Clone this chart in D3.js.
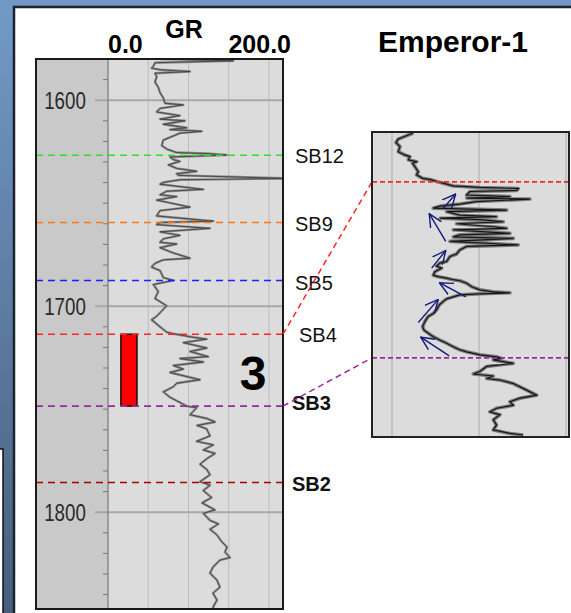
<!DOCTYPE html>
<html>
<head>
<meta charset="utf-8">
<script src="https://cdn.jsdelivr.net/npm/d3@7"></script>
<style>
  body { margin: 0; background: #fff; }
  svg { display: block; font-family: Arial, "Liberation Sans", sans-serif; }
</style>
</head>
<body>
<div id="chart"></div>
<script>
/* GR well log with sequence boundaries, Emperor-1 */

// Sequence boundaries (depth, m)
const horizons = ["SB12", "SB9", "SB5", "SB4", "SB3", "SB2"];
const horizonDepths = [1626.7, 1659.4, 1687.5, 1713.6, 1748.5, 1785.6];

// Depth track ticks
const depthLabels = [1600, 1700, 1800];
const minorStep = 10;

// GR track scale
const grGrid = [50, 100, 150, 200];
const grHeader = ["0.0", "200.0"];

// Main GR curve
const grDepth = [1580.0, 1580.9, 1581.8, 1583.5, 1584.4, 1585.2, 1586.1, 1586.9, 1588.6, 1591.2,
  1593.8, 1596.3, 1598.9, 1601.5, 1602.3, 1604.0, 1605.7, 1607.5, 1609.2, 1610.0,
  1611.7, 1613.4, 1614.3, 1615.1, 1616.0, 1619.4, 1622.0, 1623.7, 1625.4, 1625.9,
  1626.6, 1627.6, 1628.8, 1629.7, 1631.4, 1633.1, 1634.5, 1635.7, 1636.5, 1638.0,
  1638.6, 1639.9, 1640.8, 1643.3, 1644.2, 1645.9, 1646.8, 1648.5, 1651.9, 1653.6,
  1656.2, 1658.7, 1659.4, 1660.4, 1662.2, 1663.9, 1665.6, 1667.3, 1669.0, 1669.8,
  1671.6, 1674.0, 1676.7, 1677.5, 1679.2, 1681.0, 1682.7, 1686.1, 1687.5, 1689.5,
  1692.9, 1696.3, 1699.8, 1703.2, 1704.9, 1706.6, 1710.0, 1712.6, 1713.4, 1715.1,
  1716.0, 1717.7, 1720.3, 1722.0, 1724.5, 1725.4, 1727.1, 1728.8, 1730.5, 1732.2,
  1735.7, 1737.4, 1739.1, 1741.6, 1744.2, 1745.9, 1748.5, 1749.3, 1751.0, 1752.7,
  1754.5, 1756.2, 1757.9, 1759.6, 1763.0, 1765.6, 1767.3, 1769.8, 1771.5, 1774.1,
  1776.7, 1779.2, 1781.8, 1785.2, 1786.9, 1789.5, 1792.9, 1795.5, 1798.9, 1800.6,
  1804.0, 1805.7, 1808.3, 1810.9, 1814.3, 1816.9, 1819.4, 1822.0, 1823.3, 1826.7,
  1829.6, 1833.0, 1836.4, 1839.3, 1842.7, 1846.1, 1847.5];
const grValues = [64.6, 155.7, 58.4, 56.3, 54.2, 64.6, 101.9, 58.4, 60.5, 58.4,
  62.5, 64.6, 68.7, 70.8, 93.6, 64.6, 60.5, 89.4, 64.6, 95.6,
  68.7, 97.7, 77.0, 116.4, 89.4, 68.7, 66.7, 72.9, 85.3, 122.6,
  147.4, 77.0, 81.2, 89.4, 75.0, 85.3, 110.1, 85.3, 87.4, 225.0,
  90.0, 68.7, 64.6, 118.4, 72.9, 64.6, 85.3, 60.5, 101.9, 64.6,
  60.5, 130.8, 64.6, 60.5, 126.7, 64.6, 89.4, 68.7, 64.6, 85.3,
  64.6, 80.0, 101.9, 68.7, 58.4, 54.2, 64.6, 68.7, 81.2, 56.3,
  62.5, 58.4, 72.9, 64.6, 60.5, 54.2, 64.6, 72.9, 81.2, 106.0,
  122.6, 93.6, 122.6, 101.9, 124.6, 89.4, 118.4, 81.2, 93.6, 77.0,
  114.3, 85.3, 81.2, 68.7, 77.0, 85.3, 97.7, 110.1, 106.0, 101.9,
  122.6, 132.9, 110.6, 122.6, 126.7, 110.1, 130.8, 118.4, 133.0, 122.6,
  114.3, 122.6, 126.7, 114.3, 126.7, 118.4, 128.8, 116.8, 132.9, 118.4,
  126.7, 137.1, 126.7, 135.0, 141.2, 147.8, 145.3, 151.6, 139.1, 130.4,
  126.7, 135.4, 139.1, 130.4, 135.4, 130.4, 133.0];

// Zoomed curve, SB4 to SB3 interval
const insetDepth = [1703.9, 1704.3, 1705.1, 1705.8, 1706.6, 1707.6, 1708.2, 1708.6, 1709.2, 1709.6,
  1709.9, 1710.6, 1711.6, 1712.2, 1712.9, 1713.2, 1713.5, 1714.4, 1714.7, 1714.9,
  1715.3, 1715.5, 1716.2, 1716.5, 1716.8, 1717.0, 1717.5, 1718.0, 1718.4, 1718.8,
  1719.2, 1719.5, 1720.2, 1720.5, 1720.8, 1721.1, 1721.5, 1721.9, 1722.5, 1722.8,
  1723.1, 1723.8, 1724.1, 1724.5, 1724.8, 1725.4, 1726.1, 1726.4, 1727.1, 1727.9,
  1728.4, 1729.4, 1729.7, 1730.3, 1730.7, 1731.4, 1732.1, 1732.4, 1732.7, 1733.0,
  1733.2, 1733.7, 1734.4, 1735.0, 1735.4, 1735.6, 1735.8, 1736.0, 1736.4, 1736.8,
  1737.3, 1738.0, 1739.0, 1739.7, 1740.3, 1741.3, 1742.3, 1743.0, 1743.6, 1744.3,
  1745.0, 1745.6, 1746.3, 1746.9, 1747.3, 1747.9, 1748.3, 1748.6, 1748.9, 1749.6,
  1750.2, 1751.2, 1751.7, 1752.1, 1752.6, 1752.9, 1753.6, 1754.9, 1755.9, 1756.5,
  1757.2, 1757.9, 1758.5, 1759.2, 1759.8, 1760.8, 1761.8, 1762.8, 1763.5, 1763.8];
const insetGR = [62.2, 59.4, 53.6, 52.3, 54.6, 53.6, 56.9, 60.3, 59.4, 64.1,
  61.8, 63.2, 65.1, 64.1, 67.6, 72.8, 75.6, 85.2, 100.5, 122.6,
  121.6, 94.8, 92.9, 117.8, 92.9, 129.3, 98.6, 89.0, 77.6, 73.7,
  115.9, 81.4, 89.0, 110.1, 77.6, 100.5, 114.0, 87.1, 108.2, 115.9,
  85.2, 117.8, 89.0, 85.2, 119.7, 83.3, 122.6, 92.9, 89.0, 87.1,
  83.3, 81.4, 77.6, 75.6, 78.5, 74.7, 73.7, 76.6, 81.4, 85.2,
  89.0, 92.9, 95.8, 100.5, 108.2, 117.8, 100.5, 89.0, 85.2, 81.4,
  79.5, 77.2, 75.6, 73.7, 70.8, 68.9, 67.6, 68.4, 70.8, 73.7,
  77.6, 81.4, 85.2, 89.0, 92.9, 100.5, 110.1, 113.0, 108.2, 119.7,
  104.4, 100.5, 96.7, 108.2, 104.4, 112.0, 119.7, 127.4, 133.1, 123.5,
  117.8, 119.7, 110.1, 106.3, 112.0, 108.2, 110.1, 108.2, 117.8, 125.4];
const insetGrid = [50, 100, 150];

// Trend arrows in the zoomed panel (tail -> tip)
const arrowTailDepth = [1718.8, 1725.4, 1730.7, 1736.4, 1741.5, 1748.1];
const arrowTailGR = [79.5, 80.9, 72.8, 92.5, 65.1, 82.9];
const arrowTipDepth = [1716.0, 1719.9, 1727.2, 1733.6, 1736.9, 1744.4];
const arrowTipGR = [86.6, 71.4, 80.9, 77.2, 76.6, 66.5];

// Sequence 3 interval
const seqName = "3";
const seqTop = "SB4", seqBase = "SB3";
const seqGR = [16, 36];

// Colours and label styles per boundary
const horizonColor = { SB12: "#2ee02e", SB9: "#ff7410", SB5: "#1f1fff", SB4: "#ff2626", SB3: "#9c2a9c", SB2: "#a80000" };
const horizonBold = { SB3: true, SB2: true };

// Page layout
const width = 571, height = 613;
const track = { left: 36, split: 108, right: 283, top: 59, bottom: 609 };
const inset = { left: 372, right: 569, top: 132, bottom: 437 };

let svg = d3.select("#chart")
  .append("svg")
  .attr("width", width)
  .attr("height", height)
  .attr("viewBox", [0, 0, width, height]);

let defs = svg.append("defs");
let grad = defs.append("linearGradient").attr("id", "bg").attr("x1", 0).attr("x2", 0).attr("y1", 0).attr("y2", 1);
grad.append("stop").attr("offset", "0%").attr("stop-color", "#7299c6");
grad.append("stop").attr("offset", "100%").attr("stop-color", "#475f7d");

defs.append("clipPath").attr("id", "clipTrack")
  .append("rect").attr("x", track.split).attr("y", track.top)
  .attr("width", track.right - track.split).attr("height", track.bottom - track.top);
defs.append("clipPath").attr("id", "clipInset")
  .append("rect").attr("x", inset.left).attr("y", inset.top)
  .attr("width", inset.right - inset.left).attr("height", inset.bottom - inset.top);

defs.append("marker")
  .attr("id", "head")
  .attr("viewBox", "0 0 10 10")
  .attr("refX", 9.5).attr("refY", 5)
  .attr("markerWidth", 14).attr("markerHeight", 14)
  .attr("markerUnits", "userSpaceOnUse")
  .attr("orient", "auto")
  .append("path")
  .attr("d", "M0,0.5 L9.5,5 L0,9.5")
  .attr("fill", "none")
  .attr("stroke", "#14197a")
  .attr("stroke-width", 1);

// Slide background and panel
svg.append("rect").attr("width", width).attr("height", height).attr("fill", "url(#bg)");
svg.append("rect")
  .attr("x", 14).attr("y", 7).attr("width", width).attr("height", height)
  .attr("fill", "#fff").attr("stroke", "#1b2230").attr("stroke-width", 2.5);
svg.append("rect")
  .attr("x", -3).attr("y", 449).attr("width", 6).attr("height", 200)
  .attr("fill", "#fff").attr("stroke", "#111").attr("stroke-width", 1.5);

// Scales
let y = d3.scaleLinear()
  .domain([1580, 1847])
  .range([track.top, track.bottom]);

let x = d3.scaleLinear()
  .domain([0, 200])
  .range([track.split, 269]);

let yIn = d3.scaleLinear()
  .domain([1703.7, 1764.2])
  .range([inset.top, inset.bottom]);

let xIn = d3.scaleLinear()
  .domain([50, 150])
  .range([392, 566]);

const depthOf = name => horizonDepths[horizons.indexOf(name)];

// Track backgrounds
svg.append("rect")
  .attr("x", track.left).attr("y", track.top)
  .attr("width", track.split - track.left).attr("height", track.bottom - track.top)
  .attr("fill", "#c9c9c9");
svg.append("rect")
  .attr("x", track.split).attr("y", track.top)
  .attr("width", track.right - track.split).attr("height", track.bottom - track.top)
  .attr("fill", "#dcdcdc");

// GR grid
svg.append("g")
  .selectAll("line")
  .data(grGrid)
  .join("line")
  .attr("x1", d => x(d)).attr("x2", d => x(d))
  .attr("y1", track.top).attr("y2", track.bottom)
  .attr("stroke", "#bcbcbc").attr("stroke-width", 1);

// Depth axis: minor ticks, major lines, labels
let minor = d3.range(1580, 1848, minorStep).filter(d => d % 100 !== 0);
svg.append("g")
  .selectAll("line")
  .data(minor)
  .join("line")
  .attr("x1", track.split - 5).attr("x2", track.split)
  .attr("y1", d => y(d)).attr("y2", d => y(d))
  .attr("stroke", "#777").attr("stroke-width", 1);

svg.append("g")
  .selectAll("line")
  .data(depthLabels)
  .join("line")
  .attr("x1", track.split - 13).attr("x2", track.right)
  .attr("y1", d => y(d)).attr("y2", d => y(d))
  .attr("stroke", "#a8a8a8").attr("stroke-width", 2);

svg.append("g")
  .selectAll("text")
  .data(depthLabels)
  .join("text")
  .text(d => d)
  .attr("transform", d => `translate(65,${y(d) + 9}) scale(0.78,1)`)
  .attr("text-anchor", "middle")
  .attr("font-size", 24)
  .attr("fill", "#2a2a2a");

svg.append("line")
  .attr("x1", track.split).attr("x2", track.split)
  .attr("y1", track.top).attr("y2", track.bottom)
  .attr("stroke", "#8a8a8a").attr("stroke-width", 1.5);

// Sequence bar
svg.append("rect")
  .attr("x", x(seqGR[0]))
  .attr("width", x(seqGR[1]) - x(seqGR[0]))
  .attr("y", y(depthOf(seqTop)))
  .attr("height", y(depthOf(seqBase)) - y(depthOf(seqTop)))
  .attr("fill", "#ff0000")
  .attr("stroke", "#111")
  .attr("stroke-width", 1.5);

// GR curve
let line = d3.line()
  .x(i => x(grValues[i]))
  .y(i => y(grDepth[i]));
let idx = d3.range(grDepth.length);

let curve = svg.append("g").attr("clip-path", "url(#clipTrack)");
curve.append("path")
  .attr("d", line(idx))
  .attr("fill", "none").attr("stroke", "#8c8c8c").attr("stroke-width", 2.4)
  .attr("stroke-linejoin", "round");
curve.append("path")
  .attr("d", line(idx))
  .attr("fill", "none").attr("stroke", "#3a3a3a").attr("stroke-width", 0.8);

// Boundaries across the log
svg.append("g")
  .selectAll("line")
  .data(horizons)
  .join("line")
  .attr("x1", track.left).attr("x2", track.right)
  .attr("y1", d => y(depthOf(d))).attr("y2", d => y(depthOf(d)))
  .attr("stroke", d => horizonColor[d])
  .attr("stroke-width", 1.6)
  .attr("stroke-dasharray", "7,5");

svg.append("g")
  .selectAll("text")
  .data(horizons)
  .join("text")
  .text(d => d)
  .attr("x", d => d === "SB4" ? 299 : (horizonBold[d] ? 292 : 295))
  .attr("y", d => y(depthOf(d)) + (d === "SB3" ? 4 : 8) + (d === "SB5" ? 2 : 0))
  .attr("font-size", 20)
  .attr("font-weight", d => horizonBold[d] ? "bold" : "normal")
  .attr("fill", "#111");

// Track frame
svg.append("rect")
  .attr("x", track.left).attr("y", track.top)
  .attr("width", track.right - track.left).attr("height", track.bottom - track.top)
  .attr("fill", "none").attr("stroke", "#1a1a1a").attr("stroke-width", 2);

// Headers
svg.append("text").text("GR")
  .attr("x", 184).attr("y", 38)
  .attr("text-anchor", "middle").attr("font-size", 25).attr("font-weight", "bold");
svg.append("text").text(grHeader[0])
  .attr("x", x(0)).attr("y", 53)
  .attr("font-size", 25).attr("font-weight", "bold");
svg.append("text").text(grHeader[1])
  .attr("x", 291).attr("y", 53)
  .attr("text-anchor", "end").attr("font-size", 25).attr("font-weight", "bold");
svg.append("text").text("Emperor-1")
  .attr("x", 378).attr("y", 52)
  .attr("font-size", 30).attr("font-weight", "bold");

// Sequence number
svg.append("text").text(seqName)
  .attr("x", 253).attr("y", 390)
  .attr("text-anchor", "middle")
  .attr("font-size", 48).attr("font-weight", "bold");

// Zoomed panel
svg.append("rect")
  .attr("x", inset.left).attr("y", inset.top)
  .attr("width", inset.right - inset.left).attr("height", inset.bottom - inset.top)
  .attr("fill", "#dcdcdc");

svg.append("g")
  .selectAll("line")
  .data(insetGrid)
  .join("line")
  .attr("x1", d => xIn(d)).attr("x2", d => xIn(d))
  .attr("y1", inset.top).attr("y2", inset.bottom)
  .attr("stroke", "#b4b4b4").attr("stroke-width", 1.2);

let lineIn = d3.line()
  .x(i => xIn(insetGR[i]))
  .y(i => yIn(insetDepth[i]));
let idxIn = d3.range(insetDepth.length);

let curveIn = svg.append("g").attr("clip-path", "url(#clipInset)");
curveIn.append("path")
  .attr("d", lineIn(idxIn))
  .attr("fill", "none").attr("stroke", "#7d7d7d").attr("stroke-width", 3.6)
  .attr("stroke-linejoin", "round");
curveIn.append("path")
  .attr("d", lineIn(idxIn))
  .attr("fill", "none").attr("stroke", "#151515").attr("stroke-width", 1.2);

// Boundaries in the zoomed panel and connectors
[seqTop, seqBase].forEach(name => {
  svg.append("line")
    .attr("x1", inset.left).attr("x2", inset.right)
    .attr("y1", yIn(depthOf(name))).attr("y2", yIn(depthOf(name)))
    .attr("stroke", horizonColor[name]).attr("stroke-width", 1.8)
    .attr("stroke-dasharray", "5,3");
  svg.append("line")
    .attr("x1", track.right).attr("x2", inset.left)
    .attr("y1", y(depthOf(name))).attr("y2", yIn(depthOf(name)))
    .attr("stroke", horizonColor[name]).attr("stroke-width", 1.5)
    .attr("stroke-dasharray", "6,4");
});

// Trend arrows
svg.append("g")
  .selectAll("line")
  .data(d3.range(arrowTipDepth.length))
  .join("line")
  .attr("x1", i => xIn(arrowTailGR[i])).attr("y1", i => yIn(arrowTailDepth[i]))
  .attr("x2", i => xIn(arrowTipGR[i])).attr("y2", i => yIn(arrowTipDepth[i]))
  .attr("stroke", "#14197a").attr("stroke-width", 1.4)
  .attr("marker-end", "url(#head)");

svg.append("rect")
  .attr("x", inset.left).attr("y", inset.top)
  .attr("width", inset.right - inset.left).attr("height", inset.bottom - inset.top)
  .attr("fill", "none").attr("stroke", "#222").attr("stroke-width", 2);
</script>
</body>
</html>
